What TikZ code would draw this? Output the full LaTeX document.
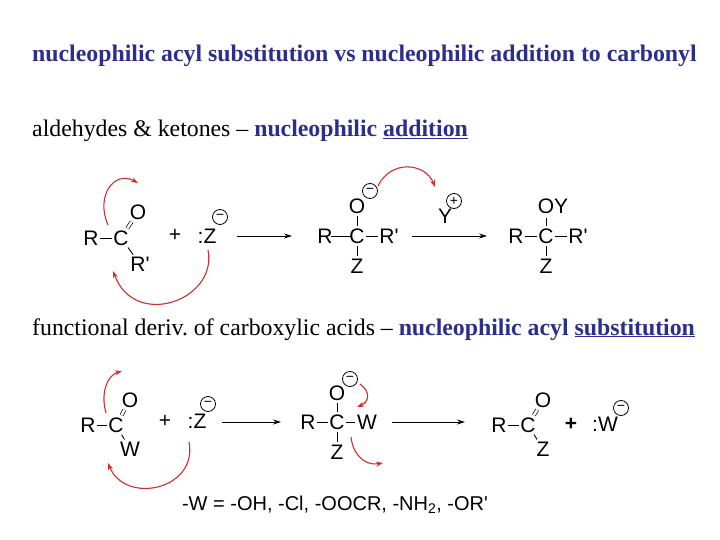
\documentclass[tikz,border=0pt]{standalone}
\usepackage{fontspec}
\setmainfont{Liberation Serif}
\newfontfamily\chem{Liberation Sans}
\usetikzlibrary{arrows.meta}
\definecolor{navy}{HTML}{2B2E8C}
\definecolor{rd}{HTML}{D42A2A}
\begin{document}
\begin{tikzpicture}[x=1pt,y=-1pt,
  atm/.style={font=\chem\fontsize{21}{21}\selectfont, inner xsep=-1.5pt, inner ysep=-0.5pt},
  bond/.style={line width=0.9pt, shorten <=3pt, shorten >=3pt},
  dbl/.style={double, double distance=2.4pt, line width=0.7pt, shorten <=3pt, shorten >=3pt},
  chg/.style={circle, draw, line width=0.8pt, minimum size=15pt, inner sep=0pt, font=\chem\fontsize{14}{14}\selectfont},
  rxn/.style={-{Stealth[length=8pt,width=5pt]}, line width=0.8pt},
  push/.style={rd, line width=1.1pt, -{Stealth[length=7pt,width=5pt]}},
  tt/.style={anchor=base west, inner sep=0pt, font=\fontsize{23.8}{24}\selectfont}]
\useasboundingbox (0,0) rectangle (720,540);
% texts
\node[tt, text=navy, font=\bfseries\fontsize{23.8}{24}\selectfont] (t1) at (32,62) {nucleophilic acyl substitution vs nucleophilic addition to carbonyl};
\node[tt] (t2) at (32,137) {aldehydes \& ketones -- \textcolor{navy}{\bfseries nucleophilic \underline{addition}}};
\node[tt] (t3) at (32,335) {functional deriv.\ of carboxylic acids -- \textcolor{navy}{\bfseries nucleophilic acyl \underline{substitution}}};
% scheme 1
\node[atm] (aR) at (91,238) {R};
\node[atm] (aC) at (121,238) {C};
\node[atm] (aO) at (138,212) {O};
\node[atm] (aR2) at (140,264) {R'};
\draw[bond] (aR) -- (aC);
\draw[dbl] (aC) -- (aO);
\draw[bond] (aC) -- (aR2);
\node[atm] (ap) at (175,235) {+};
\node[atm] (aZ) at (207,236) {:Z};
\node[chg] (aZm) at (220,217) {−};
\coordinate (a1s) at (237,236); \coordinate (a1e) at (292,236);
\draw[rxn] (a1s) -- (a1e);
\node[atm] (bR) at (325,236) {R};
\node[atm] (bC) at (357,236) {C};
\node[atm] (bR2) at (389,236) {R'};
\node[atm] (bO) at (357,206) {O};
\node[atm] (bZ) at (357,266) {Z};
\node[chg] (bOm) at (370,191) {−};
\draw[bond] (bR) -- (bC) -- (bR2);
\draw[bond] (bO) -- (bC);
\draw[bond] (bC) -- (bZ);
\node[atm] (Y) at (445,216) {Y};
\node[chg] (Yp) at (454,201) {+};
\coordinate (a2s) at (412,236); \coordinate (a2e) at (487,236);
\draw[rxn] (a2s) -- (a2e);
\node[atm] (cR) at (516,236) {R};
\node[atm] (cC) at (546,236) {C};
\node[atm] (cR2) at (578,236) {R'};
\node[atm] (cO) at (553,206) {OY};
\node[atm] (cZ) at (546,266) {Z};
\coordinate (cOb) at (546,215);
\draw[bond] (cR) -- (cC);
\draw[bond] (cC) -- (cR2);
\draw[bond] (cC) -- (cOb);
\draw[bond] (cC) -- (cZ);
\coordinate (p1s) at (108,225); \coordinate (p1e) at (138,183);
\draw[push] (p1s) .. controls (95,195) and (115,170) .. (p1e);
\coordinate (p2s) at (208,250); \coordinate (p2e) at (113,271);
\draw[push] (p2s) .. controls (218,300) and (135,330) .. (p2e);
\coordinate (p3s) at (378,186); \coordinate (p3e) at (435,187);
\draw[push] (p3s) .. controls (390,160) and (425,162) .. (p3e);
% scheme 2
\node[atm] (dR) at (88,425) {R};
\node[atm] (dC) at (116,425) {C};
\node[atm] (dO) at (130,400) {O};
\node[atm] (dW) at (130,449) {W};
\draw[bond] (dR) -- (dC);
\draw[dbl] (dC) -- (dO);
\draw[bond] (dC) -- (dW);
\node[atm] (dp) at (165,421) {+};
\node[atm] (dZ) at (197,421) {:Z};
\node[chg] (dZm) at (208,404) {−};
\coordinate (a3s) at (222,422); \coordinate (a3e) at (281,422);
\draw[rxn] (a3s) -- (a3e);
\node[atm] (eR) at (308,422) {R};
\node[atm] (eC) at (337,422) {C};
\node[atm] (eW) at (367,422) {W};
\node[atm] (eO) at (337,393) {O};
\node[atm] (eZ) at (337,452) {Z};
\node[chg] (eOm) at (350,379) {−};
\draw[bond] (eR) -- (eC);
\draw[bond] (eC) -- (eW);
\draw[bond] (eO) -- (eC);
\draw[bond] (eC) -- (eZ);
\coordinate (a4s) at (392,422); \coordinate (a4e) at (465,422);
\draw[rxn] (a4s) -- (a4e);
\node[atm] (fR) at (499,425) {R};
\node[atm] (fC) at (528,425) {C};
\node[atm] (fO) at (543,400) {O};
\node[atm] (fZ) at (543,449) {Z};
\draw[bond] (fR) -- (fC);
\draw[dbl] (fC) -- (fO);
\draw[bond] (fC) -- (fZ);
\node[atm, font=\chem\bfseries\fontsize{21}{21}\selectfont] (fp) at (571,424) {+};
\node[atm] (fW) at (605,424) {:W};
\node[chg] (fWm) at (621,408) {−};
\node[atm, font=\chem\fontsize{20}{20}\selectfont] (foot) at (335,505) {-W = -OH, -Cl, -OOCR, -NH\textsubscript{2}, -OR'};
\coordinate (q1s) at (106,413); \coordinate (q1e) at (122,371);
\draw[push] (q1s) .. controls (100,392) and (108,375) .. (q1e);
\coordinate (q2s) at (189,442); \coordinate (q2e) at (108,463);
\draw[push] (q2s) .. controls (198,490) and (125,505) .. (q2e);
\coordinate (q3s) at (360,384); \coordinate (q3e) at (357,407);
\draw[push] (q3s) .. controls (371,392) and (369,402) .. (q3e);
\coordinate (q4s) at (351,437); \coordinate (q4e) at (383,463);
\draw[push] (q4s) .. controls (353,455) and (365,466) .. (q4e);
\end{tikzpicture}
\end{document}
